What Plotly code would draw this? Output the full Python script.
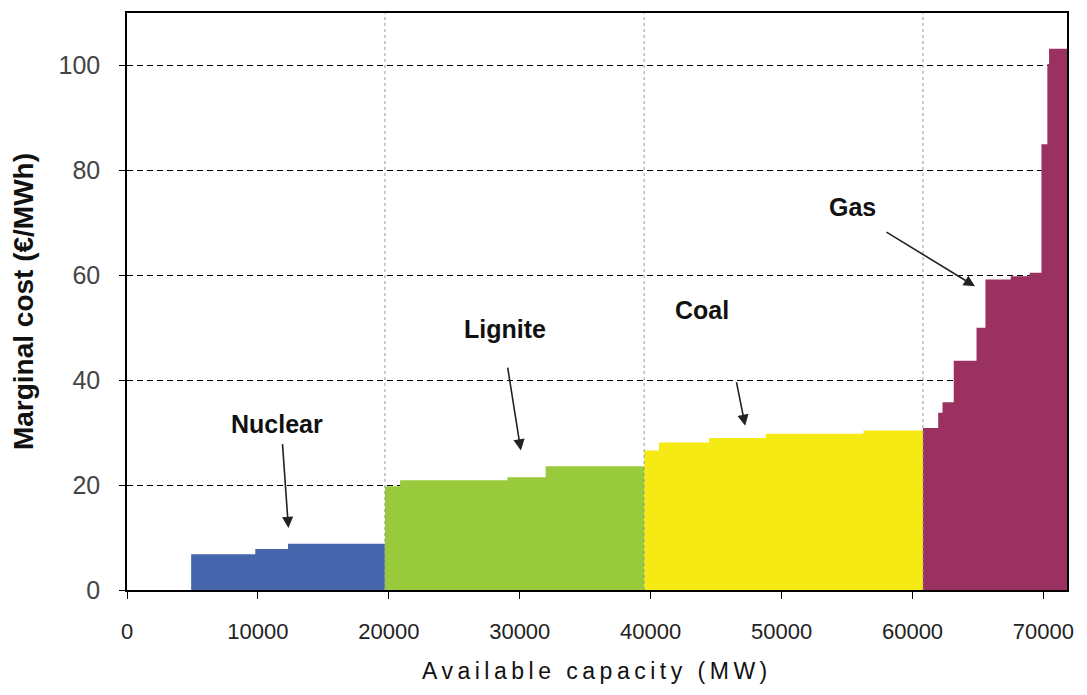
import plotly.graph_objects as go

# ---- Data ----
# Step start capacities (MW) and marginal costs (EUR/MWh) for each technology
nuclear_cap = [4900, 9800, 12300]
nuclear_cost = [6.8, 7.8, 8.8]
nuclear_end = 19700

lignite_cap = [19700, 20860, 29060, 31980]
lignite_cost = [19.8, 20.9, 21.5, 23.6]
lignite_end = 39500

coal_cap = [39500, 40630, 44450, 48780, 56260]
coal_cost = [26.6, 28.1, 29.0, 29.8, 30.4]
coal_end = 60800

gas_cap = [60800, 61960, 62290, 63150, 64890, 65570, 67500, 68950, 69850, 70300, 70430]
gas_cost = [30.9, 33.8, 35.8, 43.7, 50.0, 59.2, 59.8, 60.5, 85.0, 100.3, 103.2]
gas_end = 71800

boundaries = [19700, 39500, 60800]

x_ticks = [0, 10000, 20000, 30000, 40000, 50000, 60000, 70000]
y_ticks = [0, 20, 40, 60, 80, 100]

labels = ["Nuclear", "Lignite", "Coal", "Gas"]
label_pos = [(11490, 31.7), (28890, 49.8), (43930, 53.4), (55450, 73.1)]
arrow_tail = [(11870, 28.1), (29060, 42.7), (46530, 39.9), (57900, 68.4)]
arrow_tip = [(12330, 11.8), (30080, 26.6), (47220, 31.3), (64770, 57.9)]

colors = ["#4565AD", "#99CA3C", "#F5EA14", "#9B3161"]

series = [
    (nuclear_cap, nuclear_cost, nuclear_end),
    (lignite_cap, lignite_cost, lignite_end),
    (coal_cap, coal_cost, coal_end),
    (gas_cap, gas_cost, gas_end),
]

fig = go.Figure()
for (cap, cost, end), col, name in zip(series, colors, labels):
    fig.add_trace(go.Scatter(
        x=cap + [end], y=cost + [cost[-1]],
        mode="lines", line=dict(shape="hv", width=0, color=col),
        fill="tozeroy", fillcolor=col, name=name, showlegend=False,
        hoverinfo="skip",
    ))

for b in boundaries:
    fig.add_shape(type="line", xref="x", yref="paper", x0=b, x1=b, y0=0, y1=1,
                  line=dict(color="#9a9a9a", width=1, dash="dot"), layer="above")

font_main = "Liberation Sans, Arial, sans-serif"

for lab, (lx, ly), (tx, ty), (hx, hy) in zip(labels, label_pos, arrow_tail, arrow_tip):
    fig.add_annotation(x=lx, y=ly, xref="x", yref="y", text="<b>%s</b>" % lab,
                       showarrow=False, font=dict(family=font_main, size=25, color="#111"))
    fig.add_annotation(x=hx, y=hy, ax=tx, ay=ty, xref="x", yref="y", axref="x", ayref="y",
                       text="", showarrow=True, arrowhead=2, arrowsize=1.4,
                       arrowwidth=1.6, arrowcolor="#222")

# Page body has an 8px margin; the figure is sized and offset to compensate.
fig.add_annotation(x=0.5, y=-0.140, xref="paper", yref="paper",
                   text='<span style="letter-spacing:4.5px">Available capacity (MW)</span>',
                   showarrow=False, xanchor="center", yanchor="middle",
                   font=dict(family=font_main, size=23, color="#111"))
fig.add_annotation(x=-0.110, y=0.50, xref="paper", yref="paper", text="<b>Marginal cost (€/MWh)</b>",
                   showarrow=False, xanchor="center", yanchor="middle", textangle=-90,
                   font=dict(family=font_main, size=28, color="#111"))

fig.update_layout(
    width=1071, height=679,
    margin=dict(l=119, r=12, t=3, b=97),
    paper_bgcolor="white", plot_bgcolor="white",
    xaxis=dict(range=[0, 71800], tickvals=x_ticks, ticktext=[str(v) for v in x_ticks],
               ticks="outside", ticklen=7, tickcolor="black", tickwidth=1.3,
               showline=True, linecolor="black", linewidth=1.5, mirror=True,
               showgrid=False, zeroline=False, ticklabelstandoff=14,
               tickfont=dict(family=font_main, size=22, color="#222")),
    yaxis=dict(range=[0, 110], tickvals=y_ticks, ticks="outside", ticklen=6,
               tickcolor="black", tickwidth=1.3,
               showline=True, linecolor="black", linewidth=1.5, mirror=True,
               showgrid=True, gridcolor="black", gridwidth=1.2, griddash="6px,4px",
               zeroline=False, ticklabelstandoff=14,
               tickfont=dict(family=font_main, size=25, color="#444")),
)

fig.write_html("out.html")
